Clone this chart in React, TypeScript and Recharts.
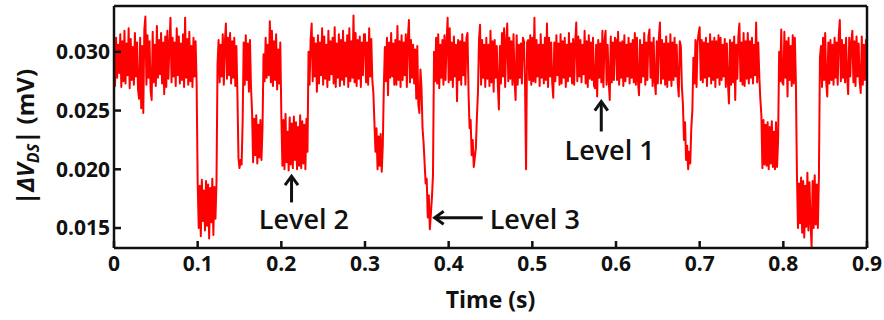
import React from 'react';
import { LineChart, Line, XAxis, YAxis, ReferenceLine, ReferenceDot } from 'recharts';

// Drain-source voltage trace (µV), sampled every 1.25 ms, one array per 0.1 s window
const SAMPLE_STEP_S = 0.00125;

const seg0 = [
  30.5, 27.1, 31.2, 27.8, 30.6, 28.2, 31.5, 27.0, 30.9, 27.5,
  31.8, 27.3, 30.7, 28.0, 32.0, 26.9, 31.1, 27.6, 30.4, 27.2,
  31.6, 27.9, 30.8, 26.8, 26.0, 31.2, 25.2, 30.5, 24.8, 31.9,
  33.0, 27.2, 31.4, 27.8, 30.9, 26.7, 25.9, 31.7, 27.4, 30.6,
  27.1, 32.2, 27.8, 31.0, 28.1, 31.6, 27.3, 30.8, 26.4, 31.3,
  27.0, 31.8, 27.7, 30.6, 32.9, 27.4, 31.2, 27.9, 30.8, 27.1,
  32.0, 28.0, 31.3, 27.3, 30.7, 27.6, 31.5, 27.0, 32.9, 27.8,
  31.1, 27.2, 31.7, 27.5, 30.5, 27.0, 31.2, 27.9, 30.9, 27.4,
];
const seg1 = [
  18.9, 15.0, 18.6, 14.3, 19.1, 15.6, 18.2, 14.8, 19.0, 15.2,
  18.7, 14.1, 18.4, 15.5, 19.2, 14.4, 18.5, 15.8, 18.9, 29.0,
  31.0, 27.4, 30.6, 27.9, 31.5, 27.2, 30.8, 32.4, 27.7, 31.2,
  28.0, 31.6, 27.3, 30.9, 27.8, 31.2, 27.1, 30.5, 26.5, 21.0,
  20.1, 20.8, 20.4, 24.0, 30.8, 27.2, 31.4, 27.6, 30.7, 26.6,
  31.0, 27.0, 24.9, 20.6, 24.3, 21.2, 24.6, 20.5, 23.8, 21.0,
  24.2, 20.8, 23.5, 29.8, 27.5, 31.2, 27.8, 30.6, 28.0, 32.6,
  27.4, 31.8, 27.1, 30.9, 27.6, 31.5, 26.8, 30.2, 27.3, 30.8,
];
const seg2 = [
  24.6, 20.3, 24.2, 20.0, 24.7, 20.6, 23.2, 19.9, 24.4, 20.4,
  23.9, 20.1, 24.5, 20.8, 24.0, 20.0, 23.6, 20.3, 24.6, 20.1,
  24.1, 20.5, 23.8, 20.0, 24.3, 21.5, 30.0, 27.2, 31.0, 32.4,
  27.5, 31.2, 27.9, 30.7, 26.6, 31.4, 27.3, 30.8, 28.0, 32.0,
  27.2, 31.3, 27.7, 30.6, 27.0, 31.8, 27.6, 30.9, 28.1, 31.2,
  27.3, 32.1, 27.0, 30.7, 27.8, 31.5, 27.1, 31.0, 27.6, 31.8,
  27.2, 30.8, 27.9, 31.4, 27.0, 32.0, 27.5, 30.9, 27.8, 33.1,
  27.4, 31.6, 27.1, 31.0, 27.7, 31.3, 27.0, 30.8, 28.0, 31.5,
];
const seg3 = [
  31.5, 27.4, 30.8, 27.2, 32.0, 27.9, 31.1, 27.6, 26.5, 24.0,
  21.5, 23.5, 20.0, 22.8, 20.3, 23.0, 19.8, 22.0, 27.0, 30.4,
  27.5, 31.2, 26.3, 30.8, 27.8, 31.6, 27.9, 30.7, 27.2, 31.0,
  27.2, 32.2, 27.6, 30.9, 27.0, 31.4, 27.6, 30.8, 28.0, 31.5,
  27.0, 31.2, 32.7, 27.4, 31.0, 27.8, 30.6, 27.3, 30.2, 26.0,
  30.5, 25.5, 24.8, 28.5, 27.0, 23.5, 22.3, 20.5, 18.8, 19.2,
  15.9, 17.8, 14.9, 16.2, 17.6, 19.5, 30.0, 27.5, 31.2, 27.3,
  31.5, 26.9, 30.6, 27.8, 31.0, 27.2, 31.4, 27.6, 30.8, 32.9,
];
const seg4 = [
  27.4, 32.0, 27.6, 30.8, 27.0, 31.3, 27.9, 30.6, 25.8, 31.0,
  27.6, 30.9, 27.2, 31.5, 28.0, 30.8, 27.2, 31.2, 31.6, 26.5,
  23.5, 24.2, 21.2, 22.5, 20.2, 21.0, 21.8, 24.5, 26.5, 31.0,
  32.3, 27.2, 31.0, 27.8, 30.6, 27.0, 31.2, 27.7, 30.6, 27.1,
  31.8, 27.4, 30.9, 26.6, 31.0, 27.8, 30.5, 27.2, 25.1, 30.5,
  27.3, 31.6, 27.9, 32.0, 27.0, 30.8, 32.4, 27.5, 31.2, 27.7,
  30.9, 27.2, 31.5, 27.6, 25.9, 31.4, 27.2, 30.6, 27.8, 30.7,
  27.3, 31.2, 30.9, 27.4, 20.0, 30.8, 31.0, 27.6, 31.4, 27.2,
];
const seg5 = [
  31.2, 27.5, 32.9, 27.4, 31.0, 27.9, 30.6, 27.1, 31.5, 27.8,
  30.6, 27.3, 31.2, 27.6, 32.4, 27.0, 31.2, 27.9, 30.8, 27.4,
  26.1, 30.8, 27.5, 31.4, 28.0, 30.7, 27.2, 31.5, 27.3, 30.9,
  27.8, 31.2, 27.0, 30.6, 27.5, 31.6, 27.9, 30.7, 27.3, 31.1,
  27.2, 30.8, 32.5, 27.5, 31.3, 27.9, 31.0, 27.4, 30.6, 28.1,
  31.8, 27.3, 30.9, 27.0, 31.4, 27.7, 30.8, 27.6, 31.2, 27.1,
  26.9, 30.6, 26.2, 31.0, 27.8, 30.7, 27.4, 31.8, 27.0, 30.9,
  31.8, 27.2, 30.6, 27.6, 25.9, 31.3, 27.4, 30.8, 27.6, 31.2,
];
const seg6 = [
  31.0, 27.6, 31.7, 27.2, 30.8, 27.8, 30.9, 27.1, 31.4, 27.5,
  30.6, 27.9, 31.2, 27.3, 30.7, 27.8, 31.0, 27.4, 31.6, 27.2,
  31.2, 27.5, 26.3, 31.0, 27.4, 30.6, 27.9, 31.6, 27.2, 30.8,
  27.6, 31.3, 31.9, 27.8, 30.8, 27.1, 31.2, 27.5, 26.4, 30.9,
  27.3, 31.2, 32.5, 27.3, 31.0, 27.7, 30.7, 27.2, 31.3, 27.0,
  30.7, 27.6, 31.5, 27.1, 30.8, 27.6, 31.2, 27.9, 30.6, 27.4,
  26.2, 30.9, 30.5, 27.0, 25.5, 22.5, 24.0, 20.8, 22.0, 20.0,
  21.5, 20.5, 23.5, 25.0, 29.5, 27.3, 31.0, 27.0, 30.8, 31.6,
];
const seg7 = [
  32.1, 27.6, 31.0, 27.4, 30.8, 27.8, 31.2, 27.1, 30.7, 27.9,
  31.5, 27.3, 30.9, 27.6, 31.2, 27.0, 30.9, 27.8, 31.4, 27.2,
  31.2, 27.6, 30.6, 27.9, 31.1, 27.0, 30.7, 27.4, 25.6, 31.0,
  27.2, 30.8, 27.4, 31.3, 25.9, 30.6, 27.7, 31.3, 32.4, 27.5,
  30.8, 27.2, 31.6, 27.1, 30.9, 27.7, 31.6, 27.3, 30.9, 27.8,
  31.2, 27.3, 30.6, 28.0, 32.5, 27.4, 30.8, 28.0, 26.0, 24.6,
  20.1, 24.2, 20.4, 23.8, 20.3, 24.0, 20.0, 23.6, 20.5, 24.1,
  20.2, 23.2, 20.0, 24.0, 20.2, 22.5, 30.0, 27.5, 31.9, 27.4,
];
const seg8 = [
  27.2, 31.7, 27.8, 30.9, 26.2, 31.2, 27.6, 30.5, 27.1, 31.4,
  27.3, 31.2, 27.5, 19.6, 15.0, 18.8, 15.4, 19.3, 14.6, 19.0,
  14.2, 18.6, 15.1, 19.7, 14.8, 18.9, 15.5, 13.4, 19.0, 15.0,
  19.5, 15.3, 18.7, 15.0, 19.2, 29.5, 30.5, 27.0, 31.2, 27.6,
  31.6, 27.4, 26.2, 30.8, 27.3, 31.0, 27.6, 30.6, 27.2, 31.2,
  27.8, 30.8, 27.2, 31.4, 32.7, 27.5, 31.0, 27.8, 30.6, 27.4,
  31.2, 27.8, 26.4, 31.2, 27.9, 30.8, 31.8, 27.4, 30.9, 27.1,
  31.3, 27.9, 30.7, 27.5, 26.5, 31.3, 27.2, 30.6, 27.6, 31.0,
];
const traceEnd = [30.0];

const timeTicks = [0, 0.1, 0.2, 0.3, 0.4, 0.5, 0.6, 0.7, 0.8, 0.9];
const voltTicks = [0.015, 0.02, 0.025, 0.03];
const timeDomain = [0, 0.9];
const voltDomain = [0.0133, 0.0339];

// Annotation arrows (time in s, voltage in mV) and their captions
const levelArrows = [
  { from: { x: 0.5824, y: 0.02322 }, to: { x: 0.5824, y: 0.02576 } },
  { from: { x: 0.2122, y: 0.01718 }, to: { x: 0.2122, y: 0.01941 } },
  { from: { x: 0.4407, y: 0.01588 }, to: { x: 0.3833, y: 0.01588 } },
];
const levelLabels = [
  { text: 'Level 1', t: 0.5923, v: 0.02082, anchor: 'middle' },
  { text: 'Level 2', t: 0.2269, v: 0.01489, anchor: 'middle' },
  { text: 'Level 3', t: 0.449, v: 0.01489, anchor: 'start' },
];

const traceUV = [...seg0, ...seg1, ...seg2, ...seg3, ...seg4, ...seg5, ...seg6, ...seg7, ...seg8, ...traceEnd];
const data = traceUV.map((uv, i) => ({ t: Number((i * SAMPLE_STEP_S).toFixed(5)), v: uv / 1000 }));

const FONT = '"Open Sans", "Liberation Sans", Arial, sans-serif';
const INK = '#111111';
const AXIS_STROKE = { stroke: INK, strokeWidth: 2.5 };
const TICK_STYLE = { fill: INK, fontSize: 21, fontWeight: 700, fontFamily: FONT };

const ArrowShape = (props: any) => {
  const { x1, y1, x2, y2 } = props;
  const dx = x2 - x1;
  const dy = y2 - y1;
  const len = Math.sqrt(dx * dx + dy * dy) || 1;
  const ux = dx / len;
  const uy = dy / len;
  const head = 9;
  const half = 6.5;
  const bx = x2 - ux * head;
  const by = y2 - uy * head;
  const px = -uy * half;
  const py = ux * half;
  return (
    <g>
      <line x1={x1} y1={y1} x2={x2 - ux * 1.5} y2={y2 - uy * 1.5} stroke={INK} strokeWidth={3} />
      <polyline
        points={`${bx + px},${by + py} ${x2},${y2} ${bx - px},${by - py}`}
        fill="none"
        stroke={INK}
        strokeWidth={3}
        strokeLinejoin="miter"
      />
    </g>
  );
};

const makeCaption = (text: string, anchor: string) => (props: any) => (
  <text
    x={props.cx}
    y={props.cy}
    textAnchor={anchor as any}
    fill={INK}
    fontSize={27}
    fontWeight={600}
    fontFamily={FONT}
  >
    {text}
  </text>
);

const YTitle = (props: any) => {
  const vb = props.viewBox;
  const cx = vb.x + 34;
  const cy = vb.y + vb.height / 2 + 10;
  return (
    <text
      x={cx}
      y={cy}
      transform={`rotate(-90 ${cx} ${cy})`}
      textAnchor="middle"
      fill={INK}
      fontSize={24}
      fontWeight={700}
      fontFamily={FONT}
    >
      <tspan>|</tspan>
      <tspan fontStyle="italic">ΔV</tspan>
      <tspan fontStyle="italic" fontSize={16} dy={5}>DS</tspan>
      <tspan dy={-5}>| (mV)</tspan>
    </text>
  );
};

const XTitle = (props: any) => {
  const vb = props.viewBox;
  return (
    <text
      x={vb.x + vb.width / 2}
      y={vb.y + 60}
      textAnchor="middle"
      fill={INK}
      fontSize={23}
      fontWeight={700}
      fontFamily={FONT}
    >
      Time (s)
    </text>
  );
};

export default function App() {
  return (
    <div style={{ position: 'absolute', left: 0, top: 0, width: 884, height: 320, background: '#fff' }}>
      <LineChart width={884} height={320} data={data} margin={{ top: 5, right: 16, bottom: 0, left: 0 }}>
        <XAxis
          dataKey="t"
          type="number"
          domain={timeDomain}
          ticks={timeTicks}
          interval={0}
          allowDataOverflow
          tickFormatter={(v: number) => (v === 0 ? '0' : v.toFixed(1))}
          axisLine={AXIS_STROKE}
          tickLine={AXIS_STROKE}
          tickSize={-7}
          tickMargin={15}
          height={72}
          tick={TICK_STYLE}
          label={<XTitle />}
        />
        <XAxis
          xAxisId="top"
          orientation="top"
          type="number"
          domain={timeDomain}
          ticks={timeTicks}
          interval={0}
          allowDataOverflow
          axisLine={AXIS_STROKE}
          tickLine={AXIS_STROKE}
          tickSize={-7}
          tick={false}
          height={1}
        />
        <YAxis
          type="number"
          domain={voltDomain}
          ticks={voltTicks}
          interval={0}
          allowDataOverflow
          tickFormatter={(v: number) => v.toFixed(3)}
          axisLine={AXIS_STROKE}
          tickLine={AXIS_STROKE}
          tickSize={-7}
          tickMargin={11}
          width={114}
          tick={TICK_STYLE}
          label={<YTitle />}
        />
        <YAxis
          yAxisId="right"
          orientation="right"
          type="number"
          domain={voltDomain}
          ticks={voltTicks}
          interval={0}
          allowDataOverflow
          axisLine={AXIS_STROKE}
          tickLine={AXIS_STROKE}
          tickSize={-7}
          tick={false}
          width={1}
        />
        <Line
          dataKey="v"
          type="linear"
          stroke="#ff0000"
          strokeWidth={2}
          strokeLinejoin="round"
          dot={false}
          isAnimationActive={false}
        />
        {levelArrows.map((a, i) => (
          <ReferenceLine key={`arrow-${i}`} segment={[a.from, a.to]} shape={ArrowShape} ifOverflow="visible" />
        ))}
        {levelLabels.map((l) => (
          <ReferenceDot
            key={l.text}
            x={l.t}
            y={l.v}
            r={1}
            ifOverflow="visible"
            shape={makeCaption(l.text, l.anchor)}
          />
        ))}
      </LineChart>
    </div>
  );
}
